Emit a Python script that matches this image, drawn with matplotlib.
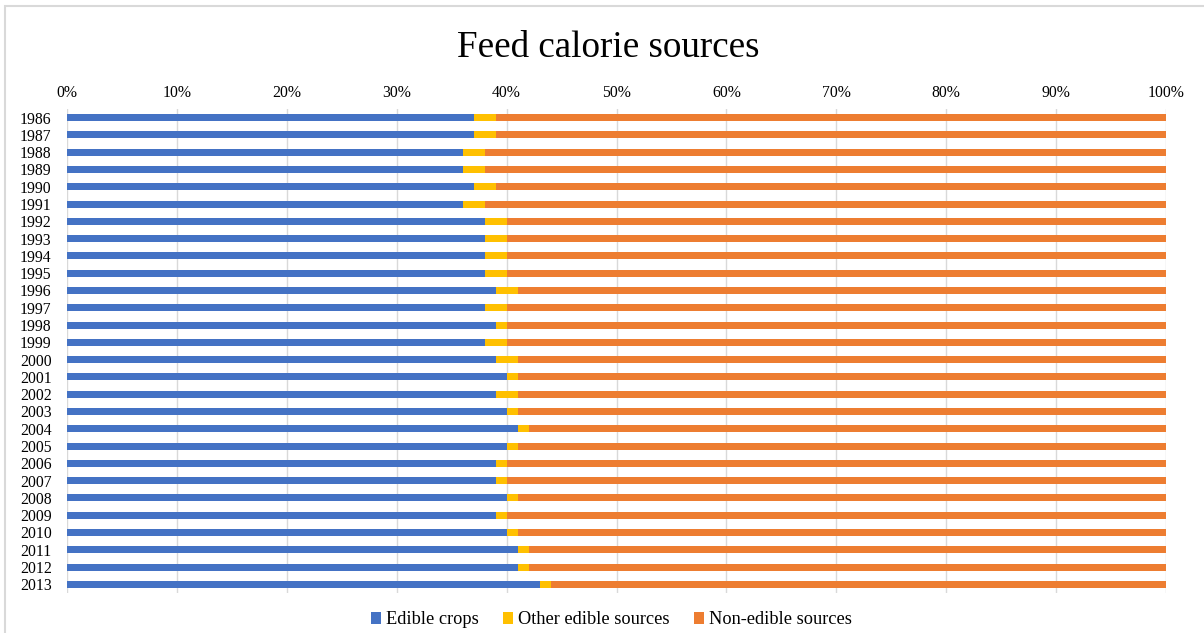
import matplotlib
matplotlib.use("Agg")
import matplotlib.pyplot as plt
from matplotlib.patches import Rectangle
from matplotlib.ticker import PercentFormatter

years = [str(y) for y in range(1986, 2014)]
edible_crops = [37, 37, 36, 36, 37, 36, 38, 38, 38, 38,
                39, 38, 39, 38, 39, 40, 39, 40, 41, 40,
                39, 39, 40, 39, 40, 41, 41, 43]
other_edible = [2, 2, 2, 2, 2, 2, 2, 2, 2, 2,
                2, 2, 1, 2, 2, 1, 2, 1, 1, 1,
                1, 1, 1, 1, 1, 1, 1, 1]
non_edible = [100 - a - b for a, b in zip(edible_crops, other_edible)]

series_names = ["Edible crops", "Other edible sources", "Non-edible sources"]
colors = ["#4472C4", "#FFC000", "#ED7D31"]

plt.rcParams["font.family"] = ["Liberation Serif", "DejaVu Serif"]

W, H = 1204, 633
fig = plt.figure(figsize=(W / 100, H / 100), dpi=100)
fig.patch.set_facecolor("white")

# chart frame (top and left edges)
fig.add_artist(Rectangle((5 / W, -0.2), 1.3, 1.2 - 6 / H,
                         transform=fig.transFigure, fill=False,
                         edgecolor="#D9D9D9", linewidth=1.5, clip_on=False))

ax = fig.add_axes([67 / W, 1 - 593 / H, (1166 - 67) / W, (593 - 109) / H])

pos = list(range(len(years)))
left = [0] * len(years)
for vals, name, col in zip([edible_crops, other_edible, non_edible], series_names, colors):
    ax.barh(pos, vals, left=left, height=0.4, color=col, label=name, zorder=3)
    left = [l + v for l, v in zip(left, vals)]

ax.set_xlim(0, 100)
ax.set_ylim(len(years) - 0.5, -0.5)
ax.set_yticks(pos)
ax.set_yticklabels(years)
ax.set_xticks(range(0, 101, 10))
ax.xaxis.set_major_formatter(PercentFormatter(decimals=0))
ax.xaxis.tick_top()
ax.tick_params(axis="x", length=0, pad=6, labelsize=11.3, colors="#000000")
ax.tick_params(axis="y", length=0, pad=11, labelsize=11.3, colors="#000000")
ax.grid(axis="x", color="#D9D9D9", linewidth=1.0, zorder=0)
ax.set_axisbelow(True)
for s in ax.spines.values():
    s.set_visible(False)

fig.text(608.5 / W, 1 - 48 / H, "Feed calorie sources", ha="center", va="center",
         fontsize=26.7, color="#000000")

fig.legend(loc="center", bbox_to_anchor=(611.5 / W, 1 - 620 / H), ncol=3,
           frameon=False, fontsize=13.2, handlelength=0.55, handleheight=0.55,
           handletextpad=0.25, columnspacing=1.35, borderaxespad=0)

fig.savefig("out.png", dpi=100, facecolor="white")
